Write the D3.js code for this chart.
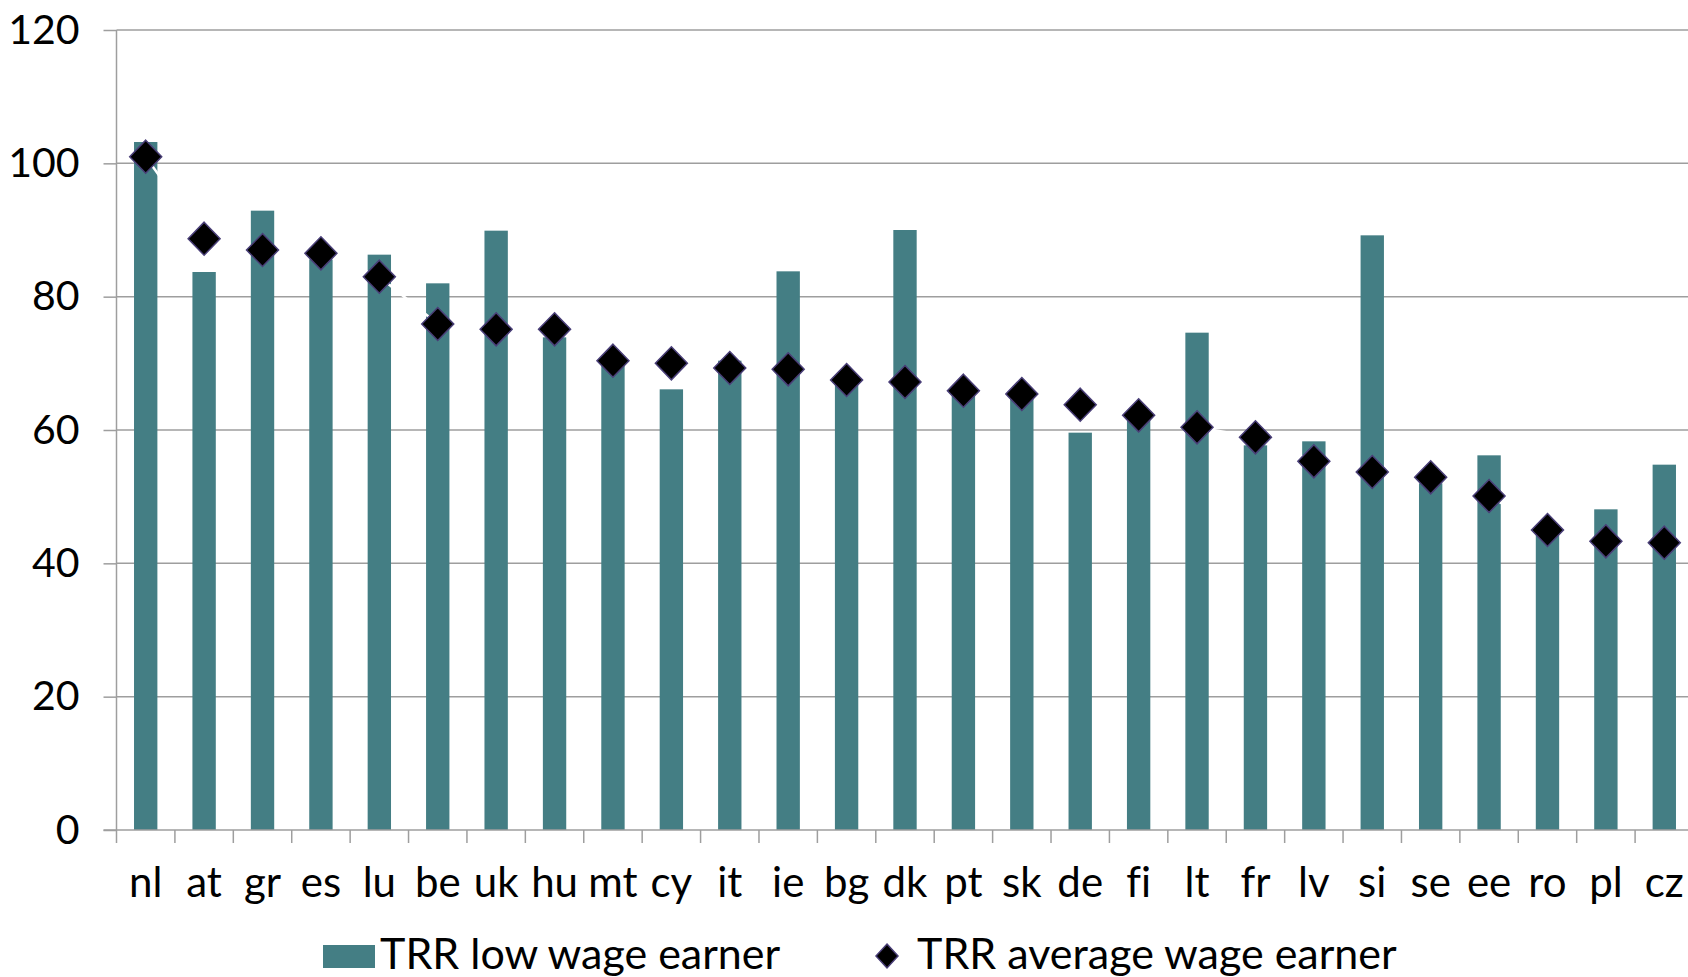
<!DOCTYPE html>
<html>
<head>
<meta charset="utf-8">
<script src="https://cdn.jsdelivr.net/npm/d3@7"></script>
<style>
  body { margin: 0; background: #fff; }
  svg { display: block; font-family: Lato, "Open Sans", sans-serif; }
  svg text { font-variant-ligatures: none; font-feature-settings: "liga" 0, "clig" 0; }
</style>
</head>
<body>
<script>
'use strict';

const width = 1688;
const height = 977;

const countries = ['nl', 'at', 'gr', 'es', 'lu', 'be', 'uk', 'hu', 'mt', 'cy', 'it', 'ie', 'bg', 'dk',
    'pt', 'sk', 'de', 'fi', 'lt', 'fr', 'lv', 'si', 'se', 'ee', 'ro', 'pl', 'cz'];

// TRR low wage earner (bars)
const lowWage = [103.2, 83.7, 92.9, 85.6, 86.3, 82.0, 89.9, 73.9, 70.2, 66.1, 70.4, 83.8, 67.0, 90.0,
    65.2, 65.5, 59.6, 61.8, 74.6, 57.7, 58.3, 89.2, 52.0, 56.2, 44.7, 48.1, 54.8];

// TRR average wage earner (diamonds)
const avgWage = [101.0, 88.7, 87.0, 86.5, 83.0, 75.9, 75.1, 75.1, 70.4, 70.0, 69.3, 69.1, 67.5, 67.2,
    65.9, 65.4, 63.8, 62.2, 60.4, 58.9, 55.3, 53.7, 52.9, 50.1, 45.0, 43.3, 43.1];

const yTicks = [0, 20, 40, 60, 80, 100, 120];

const seriesNames = ['TRR low wage earner', 'TRR average wage earner'];

const barColor = '#447e84';
const gridColor = '#9e9e9e';

const plotLeft = 116.5;
const plotRight = 1693.5;
const plotTop = 30;
const plotBottom = 830;

const svg = d3.select('body').append('svg')
    .attr('width', width)
    .attr('height', height);

const xScale = d3.scaleBand()
    .domain(countries)
    .range([plotLeft, plotRight])
    .paddingInner(0.6)
    .paddingOuter(0.3);

const yScale = d3.scaleLinear()
    .domain([0, 120])
    .range([plotBottom, plotTop]);

// horizontal gridlines
svg.append('g')
    .selectAll('line')
    .data(yTicks.filter(t => t > 0))
    .join('line')
    .attr('x1', plotLeft)
    .attr('x2', width)
    .attr('y1', d => yScale(d))
    .attr('y2', d => yScale(d))
    .attr('stroke', gridColor)
    .attr('stroke-width', 1.5);

// bars
svg.append('g')
    .attr('fill', barColor)
    .selectAll('rect')
    .data(countries)
    .join('rect')
    .attr('x', (d, i) => xScale(d))
    .attr('width', xScale.bandwidth())
    .attr('y', (d, i) => yScale(lowWage[i]))
    .attr('height', (d, i) => yScale(0) - yScale(lowWage[i]));

const cx = d => xScale(d) + xScale.bandwidth() / 2;

// faint white line joining the diamonds
svg.append('path')
    .datum(countries)
    .attr('fill', 'none')
    .attr('stroke', '#fff')
    .attr('stroke-width', 2.5)
    .attr('d', d3.line()
        .x(d => cx(d))
        .y((d, i) => yScale(avgWage[i])));

// diamonds
const diamond = (r, ry) => `M0,${-ry}L${r},0L0,${ry}L${-r},0Z`;

svg.append('g')
    .selectAll('path')
    .data(countries)
    .join('path')
    .attr('transform', (d, i) => `translate(${cx(d)},${yScale(avgWage[i])})`)
    .attr('d', diamond(16, 16.5))
    .attr('fill', '#000')
    .attr('stroke', '#4a3f78')
    .attr('stroke-width', 1.5);

// y axis
const yAxis = d3.axisLeft(yScale)
    .tickValues(yTicks)
    .tickSize(13)
    .tickPadding(24)
    .tickFormat(d3.format('d'));

const yG = svg.append('g')
    .attr('transform', `translate(${plotLeft},0)`)
    .call(yAxis);

yG.select('.domain').attr('stroke', gridColor).attr('stroke-width', 1.5).attr('d', `M0,${plotTop}V${plotBottom}`);
yG.selectAll('.tick line').attr('stroke', gridColor).attr('stroke-width', 1.5);
yG.selectAll('.tick text')
    .attr('font-size', 41)
    .attr('fill', '#000')
    .attr('font-family', 'Lato, sans-serif');

// x axis
const xG = svg.append('g')
    .attr('transform', `translate(0,${plotBottom})`);

xG.append('line')
    .attr('x1', plotLeft - 13)
    .attr('x2', width)
    .attr('stroke', gridColor)
    .attr('stroke-width', 1.5);

const step = xScale.step();
xG.selectAll('.xtick')
    .data(countries)
    .join('line')
    .attr('class', 'xtick')
    .attr('x1', d => cx(d) - step / 2)
    .attr('x2', d => cx(d) - step / 2)
    .attr('y1', 0)
    .attr('y2', 13)
    .attr('stroke', gridColor)
    .attr('stroke-width', 1.5);

xG.selectAll('.xlabel')
    .data(countries)
    .join('text')
    .attr('class', 'xlabel')
    .attr('x', d => cx(d))
    .attr('y', 67)
    .attr('text-anchor', 'middle')
    .attr('font-size', 42)
    .text(d => d);

// legend
const legend = svg.append('g');

legend.append('rect')
    .attr('x', 323)
    .attr('y', 945)
    .attr('width', 52)
    .attr('height', 23)
    .attr('fill', barColor);

legend.append('text')
    .attr('x', 380)
    .attr('y', 969)
    .attr('font-size', 43)
    .text(seriesNames[0]);

legend.append('path')
    .attr('transform', 'translate(887,956)')
    .attr('d', diamond(11, 12))
    .attr('fill', '#000')
    .attr('stroke', '#4a3f78')
    .attr('stroke-width', 1.5);

legend.append('text')
    .attr('x', 917)
    .attr('y', 969)
    .attr('font-size', 43)
    .text(seriesNames[1]);
</script>
</body>
</html>
